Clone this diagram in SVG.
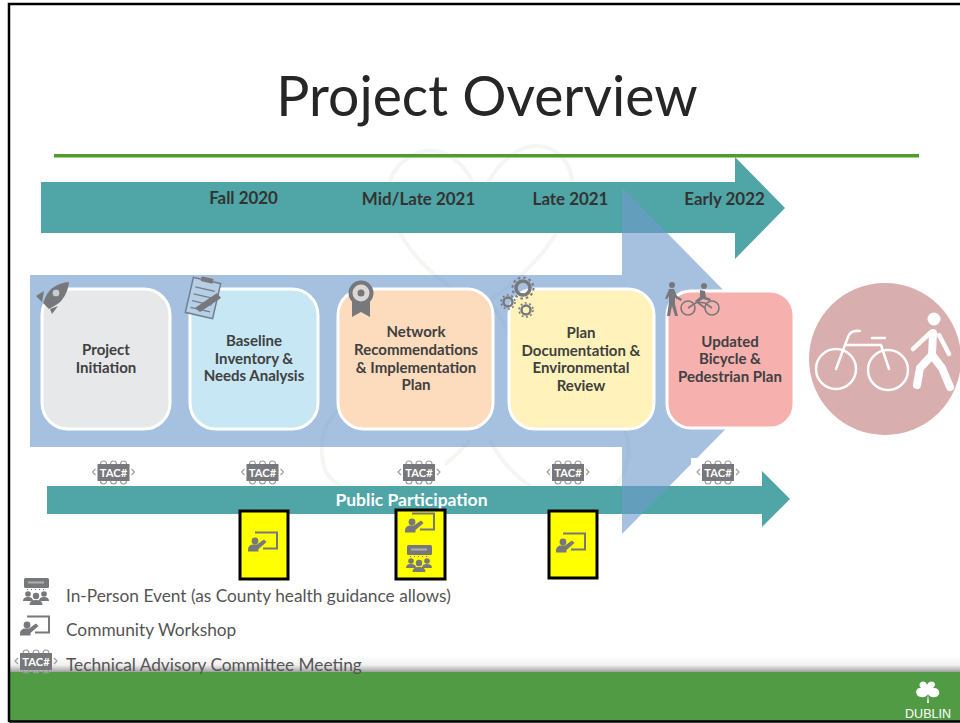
<svg xmlns="http://www.w3.org/2000/svg" xmlns:xlink="http://www.w3.org/1999/xlink" width="960" height="723" viewBox="0 0 960 723">
<style>
.lbl{font-family:"Lato","Liberation Sans",sans-serif;font-weight:700;font-size:15px;fill:#404040;text-anchor:middle}
.date{font-family:"Lato","Liberation Sans",sans-serif;font-weight:700;font-size:16.9px;fill:#333;text-anchor:middle}
.leg{font-family:"Lato","Liberation Sans",sans-serif;font-size:17.3px;fill:#555}
.box{stroke:#fff;stroke-width:3}
.ic{fill:#77787b}
.ln{fill:none;stroke:#77787b}
.wh{fill:none;stroke:#fff;stroke-linecap:round;stroke-linejoin:round}
.yel{fill:#ffff00;stroke:#000;stroke-width:3}
.tac{font-family:"Lato","Liberation Sans",sans-serif;font-weight:700;font-size:11.2px;fill:#fff;text-anchor:middle}
</style>
<defs>
<linearGradient id="fade" x1="0" y1="0" x2="0" y2="1"><stop offset="0" stop-color="#fff"/><stop offset=".55" stop-color="#f0f0f0"/><stop offset="1" stop-color="#9a9a9a"/></linearGradient>
<g id="tacIcon">
<path fill="none" stroke="#9a9b9d" stroke-width="1.100" d="M-13-8a3 3 0 0 1 6 0M-3-8a3 3 0 0 1 6 0M7-8a3 3 0 0 1 6 0M-13 9a3 3 0 0 0 6 0M-3 9a3 3 0 0 0 6 0M7 9a3 3 0 0 0 6 0M-18-3l-3 3 3 3M18-3l3 3-3 3"/>
<rect class="ic" x="-16" y="-8" width="32" height="17"/>
<text class="tac" x="0" y="4.500">TAC#</text>
</g>
<g id="workshop">
<path class="ln" stroke-width="2" d="M-9-8.500H13V7.500H-1"/>
<circle class="ic" cx="-9" cy="0" r="3.400"/>
<path class="ic" d="M-16 9q0-5.500 5.500-5.500h3.500l7-5 2.500 2.500-8 7v2.500h-10.500z"/>
</g>
<g id="event">
<rect class="ic" x="-12" y="-16" width="25" height="10" rx="1.500"/>
<rect x="-8" y="-12.500" width="16" height="2" fill="#b0b0b0"/>
<path class="ln" stroke-width="1" stroke-dasharray="1 3" d="M-9-4.500H10"/>
<circle class="ic" cx="-8" cy="0" r="2.800"/><circle class="ic" cx="8" cy="0" r="2.800"/><circle class="ic" cx="0" cy="2" r="3.200"/>
<path class="ic" d="M-13 7q0-4 5-4t5 4zM3 7q0-4 5-4t5 4zM-6.500 11q0-5 6.500-5t6.500 5z"/>
</g>
</defs>
<rect width="960" height="723" fill="#fff"/>
<g id="watermark" fill="none" stroke="#f5f6f3" stroke-width="4">
<path d="M470 300C400 260 365 190 405 160 440 135 470 165 480 200 495 160 530 130 560 155 595 190 550 260 490 300"/>
<path d="M470 300C420 400 300 380 325 470 345 510 420 500 470 440M490 300C540 400 650 390 625 470 600 530 520 500 490 440"/>
</g>
<text id="title" x="487" y="116" font-family="Lato,'Liberation Sans',sans-serif" font-size="55.300" fill="#262626" text-anchor="middle">Project Overview</text>
<rect id="rule" x="54" y="154" width="865" height="3.500" fill="#4f9b2f"/>
<g id="connectors">
<path id="timeline-arrow" d="M41 182H735V157L785 208 735 259V233H41z" fill="#50a5a6"/>
<path id="participation-arrow" d="M47 486H762V471L790 499 762 527V514H47z" fill="#50a5a6"/>
<path id="process-arrow" d="M30 275H622V187L793 361 622 534V447H30z" fill="#6f9acb" fill-opacity=".62"/>
</g>
<g class="date">
<text x="243.500" y="204">Fall 2020</text>
<text x="418.500" y="205">Mid/Late 2021</text>
<text x="570.500" y="205">Late 2021</text>
<text x="724.500" y="205">Early 2022</text>
</g>
<g id="node-initiation">
<rect class="box" x="42" y="289" width="128" height="140" rx="26" fill="#e7e8ea"/>
<text class="lbl" x="106" y="355">Project</text><text class="lbl" x="106" y="373">Initiation</text>
<g class="ic"><path d="M69 282C58 283 50 288 46 296L43 303 49 309 56 305C63 301 68 292 69 282z"/><path d="M44 291L36 296 42 302zM50 309L52 314 58 306z"/></g>
<circle cx="56" cy="293" r="4" fill="#c9ccd2" stroke="#77787b"/>
</g>
<g id="node-baseline">
<rect class="box" x="190" y="289" width="128" height="140" rx="26" fill="#c6e7f3"/>
<text class="lbl" x="254" y="346">Baseline</text><text class="lbl" x="254" y="364">Inventory &amp;</text><text class="lbl" x="254" y="381">Needs Analysis</text>
<g transform="rotate(13 203 298)"><rect x="189" y="280" width="28" height="36" fill="#b7cfe4" stroke="#6f7f90" stroke-width="1.500"/><rect x="197" y="277" width="12" height="5" class="ic"/><path d="M193 289h20M193 296h20M193 303h20M193 310h20" stroke="#6f7f90" stroke-width="1.300"/></g>
<path d="M195 308L217 293 221 298 200 312z" class="ic"/>
</g>
<g id="node-network">
<rect class="box" x="338" y="289" width="155" height="140" rx="26" fill="#fddcbd"/>
<text class="lbl" x="416" y="337">Network</text><text class="lbl" x="416" y="355">Recommendations</text><text class="lbl" x="416" y="373">&amp; Implementation</text><text class="lbl" x="416" y="390">Plan</text>
<path class="ic" d="M352 298H370V317L361 312 352 317z"/>
<circle cx="361" cy="293" r="10.500" fill="#dcd6d4" stroke="#77787b" stroke-width="4"/>
<circle class="ic" cx="361" cy="293" r="3.500"/>
</g>
<g id="node-documentation">
<rect class="box" x="509" y="289" width="145" height="140" rx="26" fill="#fff3bb"/>
<text class="lbl" x="581" y="338">Plan</text><text class="lbl" x="581" y="356">Documentation &amp;</text><text class="lbl" x="581" y="373">Environmental</text><text class="lbl" x="581" y="391">Review</text>
<g fill="none" stroke="#77787b"><circle cx="523" cy="288" r="7" stroke-width="3.500"/><circle cx="523" cy="288" r="10.500" stroke-width="2" stroke-dasharray="2.500 3"/><circle cx="508" cy="302" r="4.500" stroke-width="2.500"/><circle cx="508" cy="302" r="7" stroke-width="1.500" stroke-dasharray="2 2.500"/><circle cx="526" cy="310" r="4.500" stroke-width="2.500"/><circle cx="526" cy="310" r="7" stroke-width="1.500" stroke-dasharray="2 2.500"/></g>
</g>
<g id="node-plan">
<rect class="box" x="667" y="291" width="127" height="137" rx="24" fill="#f6b1af"/>
<text class="lbl" x="730" y="347">Updated</text><text class="lbl" x="730" y="364">Bicycle &amp;</text><text class="lbl" x="730" y="382">Pedestrian Plan</text>
<g class="ic"><circle cx="672" cy="285" r="3"/><path d="M669 289h5l3 7 5 3-1 2-6-3v6l3 12h-3l-3-10-2 10h-3l2-14v-6l-2 3h-2z"/></g>
<g fill="none" stroke="#77787b" stroke-width="1.600"><circle cx="688" cy="308" r="7"/><circle cx="712" cy="308" r="7"/><path d="M688 308l9-6 8 1 7 5M697 302l8 6"/></g>
<g class="ic"><circle cx="704" cy="286" r="3"/><path d="M700 290l5 1 1 6 5 2-1 2-7-2-6 4-2-2 5-4z"/></g>
</g>
<g id="bike-ped-badge">
<circle cx="885" cy="359" r="76" fill="#d8aeae"/>
<g class="wh" stroke-width="2.500"><circle cx="836" cy="369" r="20"/><circle cx="888" cy="370" r="20"/><path d="M836 369L848 337Q850 330 860 331M847 345H881L889 369M872 338H885"/></g>
<circle cx="934" cy="319" r="6.500" fill="#fff"/>
<g class="wh"><path stroke-width="8" d="M933 333L932 355M932 355L920 368 917 385M932 355L942 368 950 387"/><path stroke-width="4.500" d="M930 333L913 349M939 335L949 354"/></g>
</g>
<g id="tac-1"><rect x="88" y="458" width="51" height="27" fill="#fff"/><use xlink:href="#tacIcon" href="#tacIcon" x="113.500" y="472"/></g>
<g id="tac-2"><rect x="236" y="458" width="52" height="27" fill="#fff"/><use xlink:href="#tacIcon" href="#tacIcon" x="262.500" y="472"/></g>
<g id="tac-3"><rect x="393" y="458" width="52" height="27" fill="#fff"/><use xlink:href="#tacIcon" href="#tacIcon" x="419" y="472"/></g>
<g id="tac-4"><rect x="542" y="458" width="52" height="27" fill="#fff"/><use xlink:href="#tacIcon" href="#tacIcon" x="568" y="472"/></g>
<g id="tac-5"><rect x="691" y="458" width="52" height="27" fill="#fff"/><use xlink:href="#tacIcon" href="#tacIcon" x="718" y="472"/></g>
<text x="411.500" y="506" font-family="Lato,'Liberation Sans',sans-serif" font-weight="700" font-size="17.500" fill="#fff" text-anchor="middle">Public Participation</text>
<g id="workshop-1"><rect class="yel" x="240" y="511" width="48" height="68"/><use xlink:href="#workshop" href="#workshop" x="264" y="541"/></g>
<g id="event-2"><rect class="yel" x="396" y="510" width="49" height="69"/><use xlink:href="#workshop" href="#workshop" x="421" y="522"/><use xlink:href="#event" href="#event" x="419" y="561"/></g>
<g id="workshop-3"><rect class="yel" x="549" y="511" width="48" height="67"/><use xlink:href="#workshop" href="#workshop" x="572" y="542"/></g>
<g id="footer">
<rect x="9" y="656" width="951" height="16.500" fill="url(#fade)"/>
<rect x="9" y="672" width="951" height="49" fill="#529b45"/>
<path transform="translate(-11 2)" d="M932 686c-5-5 4-10 6-3 3-7 12-2 6 3 7-1 9 8 2 9-3 1-6-1-7-3l1 9h-2l1-9c-1 2-4 4-7 3-7-1-6-10 0-9z" fill="#fff"/>
<text x="928" y="717.500" font-family="'Liberation Sans',sans-serif" font-size="12.500" fill="#fff" text-anchor="middle">DUBLIN</text>
</g>
<g id="legend">
<use xlink:href="#event" href="#event" x="36" y="594"/>
<text class="leg" x="66" y="602">In-Person Event (as County health guidance allows)</text>
<use xlink:href="#workshop" href="#workshop" x="36" y="625"/>
<text class="leg" x="66" y="636">Community Workshop</text>
<use xlink:href="#tacIcon" href="#tacIcon" x="36" y="661"/>
<text class="leg" x="66" y="671">Technical Advisory Committee Meeting</text>
</g>
<path id="frame" d="M9 722V4H960M9 721.500H960" fill="none" stroke="#000" stroke-width="2.500"/>
</svg>
